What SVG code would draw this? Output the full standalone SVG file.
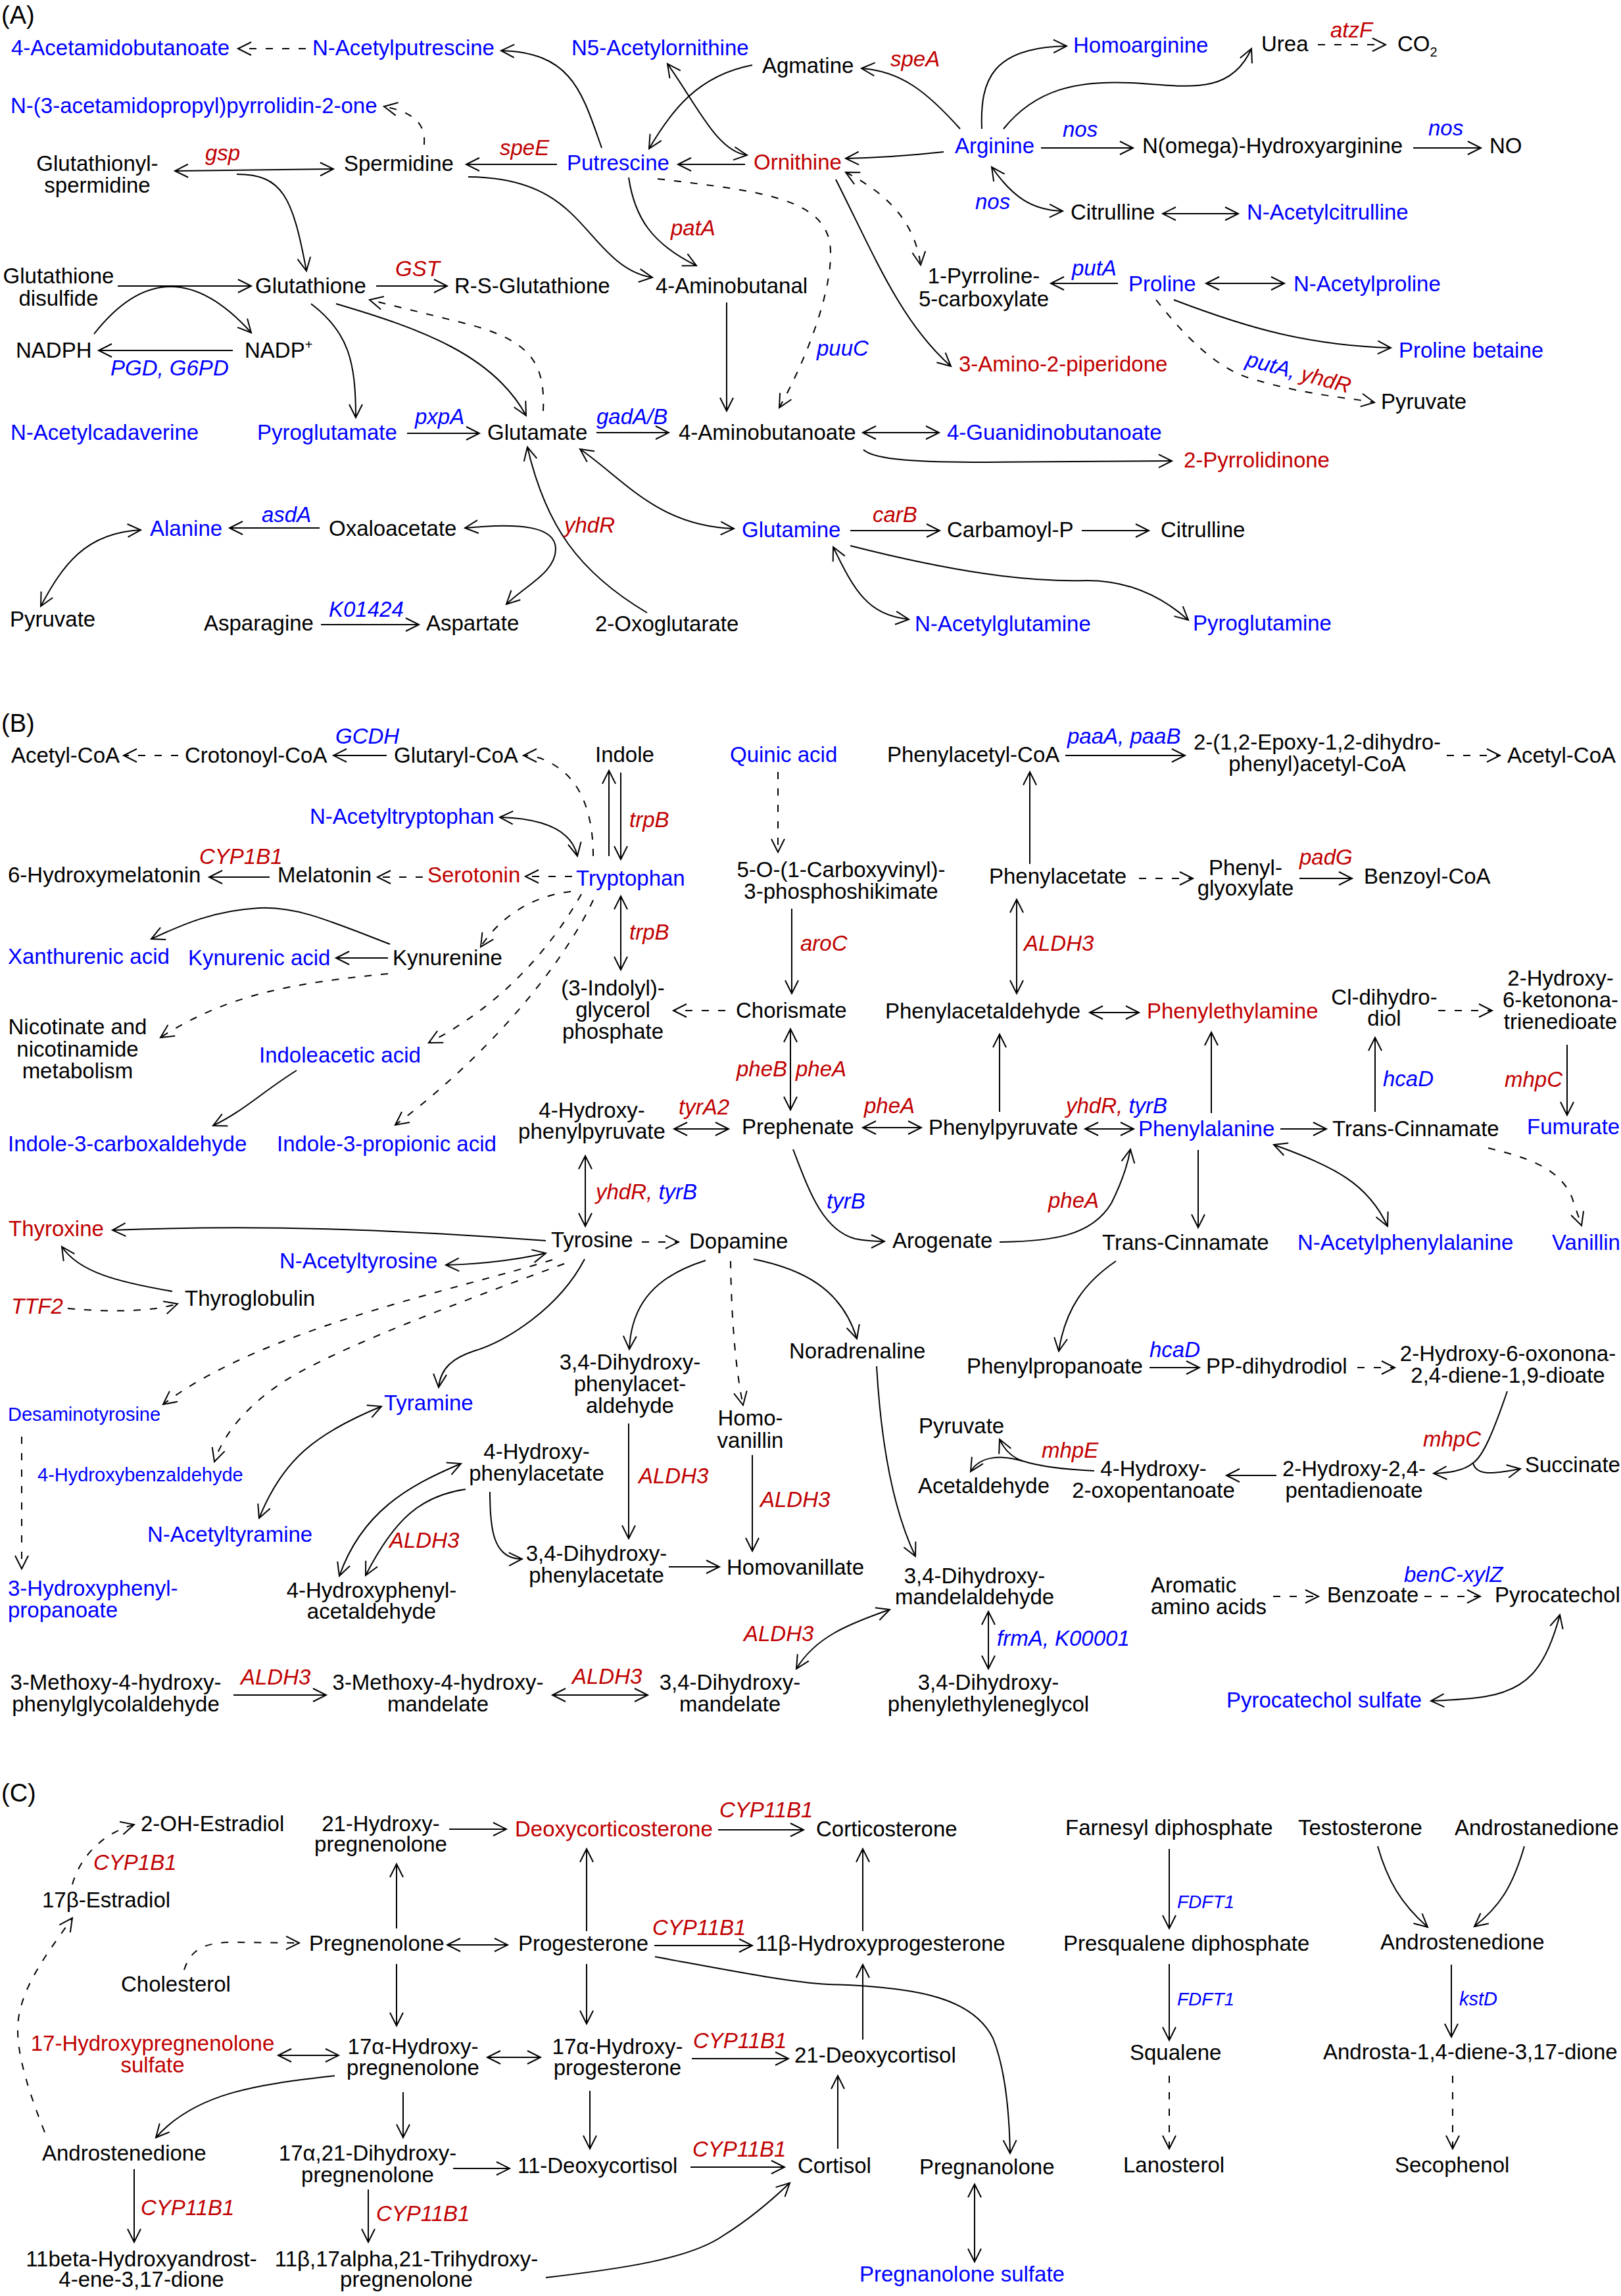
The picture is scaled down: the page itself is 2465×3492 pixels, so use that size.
<svg xmlns="http://www.w3.org/2000/svg" width="2465" height="3492" viewBox="0 0 2465 3492">
<style>
text{font-family:"Liberation Sans",Arial,sans-serif;font-size:33px;fill:#000}
.b{fill:#0000ff}.r{fill:#c00000}.i{font-style:italic}.m{text-anchor:middle}
.lab{font-size:38px}.s29{font-size:29px}.s28{font-size:28px}
.c path{fill:none;stroke:#000;stroke-width:2}
.c .d{stroke-dasharray:11 14}
.c .e1{marker-end:url(#ah)}
.c .e2{marker-start:url(#ah);marker-end:url(#ah)}
</style>
<defs>
<marker id="ah" markerUnits="userSpaceOnUse" viewBox="-22 -12 24 24" refX="0" refY="0" markerWidth="24" markerHeight="24" orient="auto-start-reverse" overflow="visible"><path d="M-20,-10 L0,0 L-20,10" fill="none" stroke="#000" stroke-width="2" stroke-dasharray="none"/></marker>
</defs>
<rect width="2465" height="3492" fill="#fff"/>

<g id="connectors" class="c">
<!-- Panel A -->
<path class="d e1" d="M465,74 L362,74"/>
<path class="e1" d="M915,225 C885,140 870,80 762,77"/>
<path class="d e1" d="M645,220 C648,185 625,170 584,162"/>
<path class="e1" d="M847,250 L709,250"/>
<path class="e1" d="M712,269 C860,270 880,350 940,398 Q965,418 992,422"/>
<path class="e2" d="M266,260 L507,257"/>
<path class="e1" d="M360,265 C430,265 445,300 466,412"/>
<path class="e1" d="M179,435 L382,435"/>
<path class="e1" d="M143,508 Q255,365 382,506"/>
<path class="e1" d="M354,533 L150,533"/>
<path class="e1" d="M572,435 L680,435"/>
<path class="d e1" d="M826,625 C830,545 800,515 700,490 L562,456"/>
<path class="e1" d="M473,462 C530,505 541,550 541,635"/>
<path class="e1" d="M511,462 C640,500 750,540 800,632"/>
<path class="e1" d="M619,659 L729,659"/>
<path class="e1" d="M907,658 L1017,658"/>
<path class="e2" d="M1312,658 L1428,658"/>
<path class="e1" d="M1313,684 C1330,700 1400,703 1500,703 L1782,701"/>
<path class="e1" d="M1105,460 L1105,625"/>
<path class="e1" d="M956,270 C965,330 990,370 1059,404"/>
<path class="d e1" d="M1000,272 C1150,290 1250,300 1262,370 C1270,430 1230,540 1185,620"/>
<path class="e1" d="M1271,273 C1330,390 1370,490 1446,557"/>
<path class="d e2" d="M1286,262 C1340,290 1390,330 1400,403"/>
<path class="e1" d="M1700,431 L1598,431"/>
<path class="e2" d="M1834,431 L1953,431"/>
<path class="e1" d="M1785,456 C1900,500 1990,525 2115,529"/>
<path class="d e1" d="M1758,456 C1800,510 1850,560 1900,575 C1980,600 2050,605 2090,612"/>
<path class="e1" d="M1435,231 C1380,237 1330,240 1286,241"/>
<path class="e1" d="M1460,196 C1410,140 1370,108 1310,104"/>
<path class="e1" d="M1144,99 C1060,115 1020,170 987,226"/>
<path class="e2" d="M1015,97 C1060,160 1090,230 1136,236"/>
<path class="e1" d="M1133,250 L1031,250"/>
<path class="e1" d="M1493,196 C1490,120 1510,72 1622,70"/>
<path class="e1" d="M1526,196 C1575,135 1640,122 1720,126 C1800,130 1870,148 1903,74"/>
<path class="d e1" d="M2004,68 L2107,68"/>
<path class="e1" d="M1583,225 L1723,225"/>
<path class="e1" d="M2149,225 L2252,225"/>
<path class="e2" d="M1508,254 C1540,300 1570,320 1616,321"/>
<path class="e2" d="M1768,325 L1883,325"/>
<path class="e2" d="M882,683 C950,730 1000,800 1116,804"/>
<path class="e1" d="M1293,807 L1429,807"/>
<path class="e1" d="M1645,807 L1747,807"/>
<path class="e1" d="M1293,830 C1450,870 1560,885 1650,883 C1720,882 1770,910 1807,943"/>
<path class="e2" d="M1267,832 C1300,900 1320,935 1382,942"/>
<path class="e1" d="M486,803 L349,803"/>
<path class="e2" d="M214,806 C130,810 95,860 62,922"/>
<path class="e1" d="M488,950 L637,950"/>
<path class="e1" d="M984,932 C880,870 830,800 802,680"/>
<path class="e2" d="M707,803 C790,795 845,800 845,835 C845,870 800,890 770,919"/>
<!-- Panel B -->
<path class="d e1" d="M271,1149 L188,1149"/>
<path class="e1" d="M588,1149 L507,1149"/>
<path class="d e1" d="M902,1302 C902,1240 885,1190 845,1165 C825,1152 810,1149 796,1149"/>
<path class="e1" d="M926,1302 L926,1172"/>
<path class="e1" d="M944,1175 L944,1307"/>
<path class="e2" d="M944,1363 L944,1475"/>
<path class="d e1" d="M1103,1537 L1024,1537"/>
<path class="d e1" d="M1183,1174 L1183,1296"/>
<path class="e1" d="M1204,1382 L1204,1511"/>
<path class="e2" d="M1202,1565 L1202,1688"/>
<path class="e2" d="M1025,1717 L1108,1717"/>
<path class="e2" d="M1312,1715 L1401,1715"/>
<path class="e2" d="M890,1758 L890,1865"/>
<path class="d e1" d="M976,1889 L1032,1889"/>
<path class="e1" d="M1206,1748 C1230,1810 1250,1870 1300,1884 Q1320,1888 1345,1888"/>
<path class="e1" d="M1520,1889 C1600,1888 1660,1880 1690,1830 C1705,1800 1715,1770 1719,1748"/>
<path class="e2" d="M1650,1717 L1724,1717"/>
<path class="e1" d="M1947,1717 L2017,1717"/>
<path class="e1" d="M2091,1691 L2091,1578"/>
<path class="d e1" d="M2187,1537 L2269,1537"/>
<path class="e1" d="M2383,1589 L2383,1696"/>
<path class="d e1" d="M2263,1746 C2320,1760 2370,1775 2390,1820 L2405,1864"/>
<path class="e1" d="M1842,1693 L1842,1570"/>
<path class="e2" d="M1657,1540 L1732,1540"/>
<path class="e1" d="M1520,1691 L1520,1573"/>
<path class="e2" d="M1546,1368 L1546,1511"/>
<path class="e1" d="M1566,1314 L1566,1174"/>
<path class="e1" d="M1620,1149 L1802,1149"/>
<path class="d e1" d="M2200,1149 L2281,1149"/>
<path class="d e1" d="M1732,1336 L1814,1336"/>
<path class="e1" d="M1976,1336 L2056,1336"/>
<path class="e1" d="M1822,1749 L1822,1867"/>
<path class="e2" d="M1937,1741 C2030,1775 2080,1800 2110,1865"/>
<path class="e1" d="M1697,1918 C1650,1950 1620,1990 1610,2055"/>
<path class="e2" d="M878,1302 C870,1265 830,1245 760,1243"/>
<path class="d e1" d="M870,1333 L799,1333"/>
<path class="d e1" d="M643,1334 L574,1334"/>
<path class="e1" d="M410,1334 L318,1334"/>
<path class="d e1" d="M868,1356 C810,1362 760,1395 731,1440"/>
<path class="e1" d="M590,1457 L511,1457"/>
<path class="e1" d="M593,1436 C500,1400 450,1378 394,1381 C320,1385 270,1410 230,1428"/>
<path class="d e1" d="M590,1481 C450,1495 350,1510 244,1578"/>
<path class="d e1" d="M884,1360 C850,1420 780,1520 652,1586"/>
<path class="e1" d="M451,1628 C400,1660 370,1690 324,1712"/>
<path class="d e1" d="M902,1369 C860,1460 750,1600 601,1711"/>
<path class="e1" d="M830,1887 C600,1870 400,1862 171,1871"/>
<path class="e2" d="M678,1924 C740,1922 790,1915 830,1906"/>
<path class="e1" d="M262,1964 C180,1950 120,1935 94,1896"/>
<path class="d e1" d="M103,1990 C170,1996 230,1995 270,1983"/>
<path class="d e1" d="M840,1916 C700,1960 400,2020 248,2136"/>
<path class="d e1" d="M858,1922 C700,1980 540,2040 450,2090 C380,2130 340,2180 326,2223"/>
<path class="e1" d="M889,1915 C850,1990 770,2040 720,2055 C690,2065 670,2080 667,2110"/>
<path class="d e1" d="M33,2185 L33,2386"/>
<path class="e2" d="M580,2139 C480,2180 430,2220 394,2309"/>
<path class="e2" d="M701,2226 C620,2260 550,2300 516,2397"/>
<path class="e1" d="M708,2265 C640,2275 600,2310 556,2396"/>
<path class="e1" d="M745,2269 C745,2320 748,2372 794,2371"/>
<path class="e1" d="M1017,2383 L1094,2383"/>
<path class="e1" d="M1073,1917 C1000,1940 960,1980 957,2052"/>
<path class="e1" d="M956,2165 L956,2340"/>
<path class="d e1" d="M1111,1918 C1112,2000 1118,2080 1130,2137"/>
<path class="e1" d="M1144,2213 L1144,2359"/>
<path class="e1" d="M1146,1915 C1220,1930 1280,1960 1303,2036"/>
<path class="e1" d="M1333,2078 C1340,2200 1360,2300 1392,2367"/>
<path class="e2" d="M1503,2451 L1503,2538"/>
<path class="e2" d="M1353,2448 C1290,2470 1240,2490 1211,2538"/>
<path class="e2" d="M840,2578 L985,2578"/>
<path class="e1" d="M355,2578 L496,2578"/>
<path class="e1" d="M1748,2080 L1824,2080"/>
<path class="d e1" d="M2064,2080 L2121,2080"/>
<path class="e1" d="M2292,2116 C2270,2180 2255,2215 2240,2225 C2225,2238 2200,2240 2180,2241"/>
<path class="e1" d="M2240,2225 C2245,2245 2270,2242 2312,2234"/>
<path class="e1" d="M1941,2244 L1865,2244"/>
<path class="e1" d="M1664,2237 C1620,2235 1580,2230 1555,2222 C1535,2215 1525,2200 1520,2189"/>
<path class="e1" d="M1555,2222 C1520,2212 1490,2215 1476,2238"/>
<path class="d e1" d="M1936,2428 L2005,2428"/>
<path class="d e1" d="M2166,2428 L2251,2428"/>
<path class="e2" d="M2372,2456 C2350,2540 2320,2570 2260,2580 C2230,2585 2200,2586 2176,2587"/>
<!-- Panel C -->
<path class="d e1" d="M110,2866 C120,2830 150,2790 204,2775"/>
<path class="d e1" d="M68,3243 C35,3160 20,3100 30,3060 C40,3010 80,2960 110,2917"/>
<path class="e1" d="M683,2782 L770,2782"/>
<path class="e1" d="M1092,2783 L1222,2783"/>
<path class="e1" d="M603,2933 L603,2835"/>
<path class="d e1" d="M280,2996 C290,2965 310,2955 350,2954 L455,2955"/>
<path class="e2" d="M680,2958 L772,2958"/>
<path class="e1" d="M892,2937 L892,2812"/>
<path class="e1" d="M995,2959 L1144,2959"/>
<path class="e1" d="M1312,2937 L1312,2812"/>
<path class="e1" d="M996,2976 C1100,2995 1200,3015 1260,3018 C1400,3022 1480,3040 1510,3100 C1530,3150 1535,3220 1536,3275"/>
<path class="e2" d="M1482,3322 L1482,3440"/>
<path class="e1" d="M603,2987 L603,3081"/>
<path class="e2" d="M423,3126 L515,3126"/>
<path class="e2" d="M741,3129 L822,3129"/>
<path class="e1" d="M892,2987 L892,3078"/>
<path class="e1" d="M1052,3131 L1199,3131"/>
<path class="e1" d="M1312,3102 L1312,2988"/>
<path class="e1" d="M509,3157 C400,3170 300,3180 237,3251"/>
<path class="e1" d="M204,3299 L204,3410"/>
<path class="e1" d="M613,3182 L613,3251"/>
<path class="e1" d="M689,3298 L775,3298"/>
<path class="e1" d="M897,3180 L897,3268"/>
<path class="e1" d="M1050,3296 L1193,3296"/>
<path class="e1" d="M1274,3268 L1274,3157"/>
<path class="e1" d="M560,3330 L560,3410"/>
<path class="e1" d="M830,3464 C950,3450 1050,3435 1100,3400 C1140,3375 1175,3345 1201,3320"/>
<path class="e1" d="M1778,2812 L1778,2933"/>
<path class="e1" d="M1778,2987 L1778,3103"/>
<path class="d e1" d="M1778,3157 L1778,3268"/>
<path class="e1" d="M2095,2808 C2110,2860 2130,2895 2171,2931"/>
<path class="e1" d="M2318,2808 C2300,2870 2280,2900 2242,2930"/>
<path class="e1" d="M2207,2988 L2207,3098"/>
<path class="d e1" d="M2209,3157 L2209,3268"/>
</g>

<!-- Panel labels -->
<g id="lblA"><text class="lab" x="2" y="36">(A)</text></g>
<g id="lblB"><text class="lab" x="2" y="1113">(B)</text></g>
<g id="lblC"><text class="lab" x="2" y="2740">(C)</text></g>

<!-- Panel A nodes -->
<g id="a_acetamidobutanoate"><text class="b" x="17" y="84">4-Acetamidobutanoate</text></g>
<g id="a_nacetylputrescine"><text class="b" x="475" y="84">N-Acetylputrescine</text></g>
<g id="a_n5acetylornithine"><text class="b" x="869" y="84">N5-Acetylornithine</text></g>
<g id="a_agmatine"><text x="1159" y="111">Agmatine</text></g>
<g id="a_speA"><text class="r i" x="1354" y="101">speA</text></g>
<g id="a_homoarginine"><text class="b" x="1632" y="80">Homoarginine</text></g>
<g id="a_urea"><text x="1918" y="78">Urea</text></g>
<g id="a_atzF"><text class="r i" x="2023" y="57">atzF</text></g>
<g id="a_co2"><text x="2125" y="78">CO<tspan font-size="20" dy="8">2</tspan></text></g>
<g id="a_pyrrolidinone"><text class="b" x="16" y="172">N-(3-acetamidopropyl)pyrrolidin-2-one</text></g>
<g id="a_glutathionylspermidine"><text class="m" x="148" y="260">Glutathionyl-<tspan x="148" dy="33">spermidine</tspan></text></g>
<g id="a_gsp"><text class="r i" x="312" y="244">gsp</text></g>
<g id="a_spermidine"><text x="523" y="260">Spermidine</text></g>
<g id="a_speE"><text class="r i" x="760" y="236">speE</text></g>
<g id="a_putrescine"><text class="b" x="862" y="259">Putrescine</text></g>
<g id="a_ornithine"><text class="r" x="1146" y="258">Ornithine</text></g>
<g id="a_arginine"><text class="b" x="1452" y="233">Arginine</text></g>
<g id="a_nos1"><text class="b i" x="1616" y="208">nos</text></g>
<g id="a_nomega"><text x="1737" y="233">N(omega)-Hydroxyarginine</text></g>
<g id="a_nos2"><text class="b i" x="2172" y="206">nos</text></g>
<g id="a_no"><text x="2265" y="233">NO</text></g>
<g id="a_patA"><text class="r i" x="1020" y="358">patA</text></g>
<g id="a_nos3"><text class="b i" x="1483" y="318">nos</text></g>
<g id="a_citrulline1"><text x="1628" y="334">Citrulline</text></g>
<g id="a_nacetylcitrulline"><text class="b" x="1896" y="334">N-Acetylcitrulline</text></g>
<g id="a_gssg"><text class="m" x="89" y="431">Glutathione<tspan x="89" dy="34">disulfide</tspan></text></g>
<g id="a_glutathione"><text x="388" y="446">Glutathione</text></g>
<g id="a_GST"><text class="r i" x="601" y="420">GST</text></g>
<g id="a_rsglutathione"><text x="691" y="446">R-S-Glutathione</text></g>
<g id="a_aminobutanal"><text x="997" y="446">4-Aminobutanal</text></g>
<g id="a_p5c"><text class="m" x="1496" y="431">1-Pyrroline-<tspan x="1496" dy="35">5-carboxylate</tspan></text></g>
<g id="a_putA"><text class="b i" x="1630" y="419">putA</text></g>
<g id="a_proline"><text class="b" x="1716" y="443">Proline</text></g>
<g id="a_nacetylproline"><text class="b" x="1967" y="443">N-Acetylproline</text></g>
<g id="a_nadph"><text x="24" y="544">NADPH</text></g>
<g id="a_nadp"><text x="372" y="544">NADP<tspan font-size="20" dy="-13">+</tspan></text></g>
<g id="a_pgd"><text class="b i" x="168" y="571">PGD, G6PD</text></g>
<g id="a_puuC"><text class="b i" x="1242" y="541">puuC</text></g>
<g id="a_aminopiperidone"><text class="r" x="1458" y="565">3-Amino-2-piperidone</text></g>
<g id="a_prolinebetaine"><text class="b" x="2127" y="544">Proline betaine</text></g>
<g id="a_putAyhdR"><text class="i" transform="translate(1893,556) rotate(15)"><tspan class="b">putA, </tspan><tspan class="r">yhdR</tspan></text></g>
<g id="a_pyruvate1"><text x="2100" y="622">Pyruvate</text></g>
<g id="a_nacetylcadaverine"><text class="b" x="16" y="669">N-Acetylcadaverine</text></g>
<g id="a_pyroglutamate"><text class="b" x="391" y="669">Pyroglutamate</text></g>
<g id="a_pxpA"><text class="b i" x="631" y="645">pxpA</text></g>
<g id="a_glutamate"><text x="741" y="669">Glutamate</text></g>
<g id="a_gadAB"><text class="b i" x="907" y="645">gadA/B</text></g>
<g id="a_aminobutanoate"><text x="1032" y="669">4-Aminobutanoate</text></g>
<g id="a_guanidinobutanoate"><text class="b" x="1440" y="669">4-Guanidinobutanoate</text></g>
<g id="a_pyrrolidinone2"><text class="r" x="1800" y="711">2-Pyrrolidinone</text></g>
<g id="a_alanine"><text class="b" x="228" y="815">Alanine</text></g>
<g id="a_asdA"><text class="b i" x="398" y="794">asdA</text></g>
<g id="a_oxaloacetate"><text x="500" y="815">Oxaloacetate</text></g>
<g id="a_yhdR"><text class="r i" x="858" y="810">yhdR</text></g>
<g id="a_glutamine"><text class="b" x="1128" y="817">Glutamine</text></g>
<g id="a_carB"><text class="r i" x="1327" y="794">carB</text></g>
<g id="a_carbamoylp"><text x="1440" y="817">Carbamoyl-P</text></g>
<g id="a_citrulline2"><text x="1765" y="817">Citrulline</text></g>
<g id="a_pyruvate2"><text x="15" y="953">Pyruvate</text></g>
<g id="a_asparagine"><text x="310" y="959">Asparagine</text></g>
<g id="a_K01424"><text class="b i" x="500" y="938">K01424</text></g>
<g id="a_aspartate"><text x="648" y="959">Aspartate</text></g>
<g id="a_oxoglutarate"><text x="905" y="960">2-Oxoglutarate</text></g>
<g id="a_nacetylglutamine"><text class="b" x="1391" y="960">N-Acetylglutamine</text></g>
<g id="a_pyroglutamine"><text class="b" x="1814" y="959">Pyroglutamine</text></g>

<!-- Panel B nodes -->
<g id="b_acetylcoa1"><text x="17" y="1160">Acetyl-CoA</text></g>
<g id="b_crotonoylcoa"><text x="281" y="1160">Crotonoyl-CoA</text></g>
<g id="b_GCDH"><text class="b i" x="510" y="1131">GCDH</text></g>
<g id="b_glutarylcoa"><text x="599" y="1160">Glutaryl-CoA</text></g>
<g id="b_indole"><text x="905" y="1159">Indole</text></g>
<g id="b_quinic"><text class="b" x="1110" y="1159">Quinic acid</text></g>
<g id="b_phenylacetylcoa"><text x="1349" y="1159">Phenylacetyl-CoA</text></g>
<g id="b_paa"><text class="b i" x="1623" y="1131">paaA, paaB</text></g>
<g id="b_epoxy"><text class="m" x="2003" y="1140">2-(1,2-Epoxy-1,2-dihydro-<tspan x="2003" dy="33">phenyl)acetyl-CoA</tspan></text></g>
<g id="b_acetylcoa2"><text x="2292" y="1160">Acetyl-CoA</text></g>
<g id="b_trpB1"><text class="r i" x="957" y="1258">trpB</text></g>
<g id="b_nacetyltryptophan"><text class="b" x="471" y="1253">N-Acetyltryptophan</text></g>
<g id="b_CYP1B1"><text class="r i" x="303" y="1314">CYP1B1</text></g>
<g id="b_hydroxymelatonin"><text x="12" y="1342">6-Hydroxymelatonin</text></g>
<g id="b_melatonin"><text x="422" y="1342">Melatonin</text></g>
<g id="b_serotonin"><text class="r" x="650" y="1342">Serotonin</text></g>
<g id="b_tryptophan"><text class="b" x="876" y="1347">Tryptophan</text></g>
<g id="b_cvps"><text class="m" x="1279" y="1334">5-O-(1-Carboxyvinyl)-<tspan x="1279" dy="33">3-phosphoshikimate</tspan></text></g>
<g id="b_phenylacetate"><text x="1504" y="1344">Phenylacetate</text></g>
<g id="b_phenylglyoxylate"><text class="m" x="1894" y="1331">Phenyl-<tspan x="1894" dy="31">glyoxylate</tspan></text></g>
<g id="b_padG"><text class="r i" x="1976" y="1315">padG</text></g>
<g id="b_benzoylcoa"><text x="2074" y="1344">Benzoyl-CoA</text></g>
<g id="b_trpB2"><text class="r i" x="957" y="1429">trpB</text></g>
<g id="b_aroC"><text class="r i" x="1217" y="1446">aroC</text></g>
<g id="b_ALDH3a"><text class="r i" x="1557" y="1446">ALDH3</text></g>
<g id="b_xanthurenic"><text class="b" x="12" y="1466">Xanthurenic acid</text></g>
<g id="b_kynurenic"><text class="b" x="286" y="1468">Kynurenic acid</text></g>
<g id="b_kynurenine"><text x="597" y="1468">Kynurenine</text></g>
<g id="b_igp"><text class="m" x="932" y="1514">(3-Indolyl)-<tspan x="932" dy="33">glycerol</tspan><tspan x="932" dy="33">phosphate</tspan></text></g>
<g id="b_chorismate"><text x="1119" y="1548">Chorismate</text></g>
<g id="b_phenylacetaldehyde"><text x="1346" y="1549">Phenylacetaldehyde</text></g>
<g id="b_phenylethylamine"><text class="r" x="1744" y="1549">Phenylethylamine</text></g>
<g id="b_cldiol"><text class="m" x="2105" y="1528">Cl-dihydro-<tspan x="2105" dy="32">diol</tspan></text></g>
<g id="b_ketonona"><text class="m" x="2373" y="1499">2-Hydroxy-<tspan x="2373" dy="33">6-ketonona-</tspan><tspan x="2373" dy="33">trienedioate</tspan></text></g>
<g id="b_nicotinate"><text class="m" x="118" y="1573">Nicotinate and<tspan x="118" dy="34">nicotinamide</tspan><tspan x="118" dy="33">metabolism</tspan></text></g>
<g id="b_indoleacetic"><text class="b" x="394" y="1616">Indoleacetic acid</text></g>
<g id="b_pheBpheA"><text class="r i" x="1120" y="1637">pheB</text><text class="r i" x="1210" y="1637">pheA</text></g>
<g id="b_hcaD1"><text class="b i" x="2103" y="1652">hcaD</text></g>
<g id="b_mhpC1"><text class="r i" x="2288" y="1653">mhpC</text></g>
<g id="b_tyrA2"><text class="r i" x="1032" y="1695">tyrA2</text></g>
<g id="b_pheA1"><text class="r i" x="1314" y="1693">pheA</text></g>
<g id="b_yhdRtyrB2"><text class="i" x="1621" y="1693"><tspan class="r">yhdR, </tspan><tspan class="b">tyrB</tspan></text></g>
<g id="b_hpp"><text class="m" x="900" y="1700">4-Hydroxy-<tspan x="900" dy="32">phenylpyruvate</tspan></text></g>
<g id="b_prephenate"><text x="1128" y="1725">Prephenate</text></g>
<g id="b_phenylpyruvate"><text x="1412" y="1726">Phenylpyruvate</text></g>
<g id="b_phenylalanine"><text class="b" x="1731" y="1728">Phenylalanine</text></g>
<g id="b_transcinnamate1"><text x="2026" y="1728">Trans-Cinnamate</text></g>
<g id="b_fumurate"><text class="b" x="2322" y="1725">Fumurate</text></g>
<g id="b_indolecarboxaldehyde"><text class="b" x="12" y="1751">Indole-3-carboxaldehyde</text></g>
<g id="b_indolepropionic"><text class="b" x="421" y="1751">Indole-3-propionic acid</text></g>
<g id="b_yhdRtyrB1"><text class="i" x="906" y="1824"><tspan class="r">yhdR, </tspan><tspan class="b">tyrB</tspan></text></g>
<g id="b_tyrB"><text class="b i" x="1257" y="1838">tyrB</text></g>
<g id="b_pheA2"><text class="r i" x="1594" y="1837">pheA</text></g>
<g id="b_thyroxine"><text class="r" x="13" y="1880">Thyroxine</text></g>
<g id="b_tyrosine"><text x="838" y="1897">Tyrosine</text></g>
<g id="b_dopamine"><text x="1048" y="1899">Dopamine</text></g>
<g id="b_arogenate"><text x="1357" y="1898">Arogenate</text></g>
<g id="b_transcinnamate2"><text x="1676" y="1901">Trans-Cinnamate</text></g>
<g id="b_nacetylphenylalanine"><text class="b" x="1973" y="1901">N-Acetylphenylalanine</text></g>
<g id="b_vanillin"><text class="b" x="2360" y="1901">Vanillin</text></g>
<g id="b_nacetyltyrosine"><text class="b" x="425" y="1929">N-Acetyltyrosine</text></g>
<g id="b_thyroglobulin"><text x="281" y="1986">Thyroglobulin</text></g>
<g id="b_TTF2"><text class="r i" x="17" y="1998">TTF2</text></g>
<g id="b_noradrenaline"><text x="1200" y="2066">Noradrenaline</text></g>
<g id="b_hcaD2"><text class="b i" x="1748" y="2064">hcaD</text></g>
<g id="b_phenylpropanoate"><text x="1470" y="2089">Phenylpropanoate</text></g>
<g id="b_ppdihydrodiol"><text x="1834" y="2089">PP-dihydrodiol</text></g>
<g id="b_oxonona"><text class="m" x="2293" y="2070">2-Hydroxy-6-oxonona-<tspan x="2293" dy="33">2,4-diene-1,9-dioate</tspan></text></g>
<g id="b_dhpaa"><text class="m" x="958" y="2083">3,4-Dihydroxy-<tspan x="958" dy="33">phenylacet-</tspan><tspan x="958" dy="33">aldehyde</tspan></text></g>
<g id="b_tyramine"><text class="b" x="584" y="2145">Tyramine</text></g>
<g id="b_desaminotyrosine"><text class="b s29" x="12" y="2161">Desaminotyrosine</text></g>
<g id="b_homovanillin"><text class="m" x="1141" y="2168">Homo-<tspan x="1141" dy="34">vanillin</tspan></text></g>
<g id="b_pyruvate"><text x="1397" y="2180">Pyruvate</text></g>
<g id="b_mhpC2"><text class="r i" x="2164" y="2200">mhpC</text></g>
<g id="b_mhpE"><text class="r i" x="1584" y="2217">mhpE</text></g>
<g id="b_hpa"><text class="m" x="816" y="2219">4-Hydroxy-<tspan x="816" dy="33">phenylacetate</tspan></text></g>
<g id="b_succinate"><text x="2319" y="2239">Succinate</text></g>
<g id="b_pentadienoate"><text class="m" x="2059" y="2245">2-Hydroxy-2,4-<tspan x="2059" dy="33">pentadienoate</tspan></text></g>
<g id="b_oxopentanoate"><text class="m" x="1754" y="2245">4-Hydroxy-<tspan x="1754" dy="33">2-oxopentanoate</tspan></text></g>
<g id="b_hydroxybenzaldehyde"><text class="b s29" x="57" y="2253">4-Hydroxybenzaldehyde</text></g>
<g id="b_ALDH3b"><text class="r i" x="971" y="2256">ALDH3</text></g>
<g id="b_acetaldehyde"><text x="1396" y="2271">Acetaldehyde</text></g>
<g id="b_ALDH3c"><text class="r i" x="1156" y="2292">ALDH3</text></g>
<g id="b_nacetyltyramine"><text class="b" x="224" y="2345">N-Acetyltyramine</text></g>
<g id="b_ALDH3d"><text class="r i" x="592" y="2354">ALDH3</text></g>
<g id="b_dhpa"><text class="m" x="907" y="2374">3,4-Dihydroxy-<tspan x="907" dy="33">phenylacetate</tspan></text></g>
<g id="b_homovanillate"><text x="1105" y="2395">Homovanillate</text></g>
<g id="b_dhmald"><text class="m" x="1482" y="2408">3,4-Dihydroxy-<tspan x="1482" dy="32">mandelaldehyde</tspan></text></g>
<g id="b_aromatic"><text x="1750" y="2422">Aromatic<tspan x="1750" dy="33">amino acids</tspan></text></g>
<g id="b_benC"><text class="b i" x="2135" y="2406">benC-xylZ</text></g>
<g id="b_benzoate"><text x="2018" y="2437">Benzoate</text></g>
<g id="b_pyrocatechol"><text x="2273" y="2437">Pyrocatechol</text></g>
<g id="b_hpp3"><text class="b" x="12" y="2427">3-Hydroxyphenyl-<tspan x="12" dy="33">propanoate</tspan></text></g>
<g id="b_hpacetaldehyde"><text class="m" x="565" y="2430">4-Hydroxyphenyl-<tspan x="565" dy="32">acetaldehyde</tspan></text></g>
<g id="b_frmA"><text class="b i" x="1516" y="2503">frmA, K00001</text></g>
<g id="b_ALDH3e"><text class="r i" x="1131" y="2496">ALDH3</text></g>
<g id="b_ALDH3f"><text class="r i" x="870" y="2561">ALDH3</text></g>
<g id="b_ALDH3g"><text class="r i" x="366" y="2562">ALDH3</text></g>
<g id="b_mhpgald"><text class="m" x="176" y="2570">3-Methoxy-4-hydroxy-<tspan x="176" dy="33">phenylglycolaldehyde</tspan></text></g>
<g id="b_mhmandelate"><text class="m" x="666" y="2570">3-Methoxy-4-hydroxy-<tspan x="666" dy="33">mandelate</tspan></text></g>
<g id="b_dhmandelate"><text class="m" x="1110" y="2570">3,4-Dihydroxy-<tspan x="1110" dy="33">mandelate</tspan></text></g>
<g id="b_dhpeg"><text class="m" x="1503" y="2570">3,4-Dihydroxy-<tspan x="1503" dy="33">phenylethyleneglycol</tspan></text></g>
<g id="b_pyrocatecholsulfate"><text class="b" x="1865" y="2597">Pyrocatechol sulfate</text></g>

<!-- Panel C nodes -->
<g id="c_ohestradiol"><text x="214" y="2785">2-OH-Estradiol</text></g>
<g id="c_21ohpreg"><text class="m" x="579" y="2785">21-Hydroxy-<tspan x="579" dy="31">pregnenolone</tspan></text></g>
<g id="c_doc"><text class="r" x="783" y="2793">Deoxycorticosterone</text></g>
<g id="c_CYP11B1a"><text class="r i" x="1094" y="2764">CYP11B1</text></g>
<g id="c_corticosterone"><text x="1241" y="2793">Corticosterone</text></g>
<g id="c_farnesyl"><text x="1620" y="2791">Farnesyl diphosphate</text></g>
<g id="c_testosterone"><text x="1974" y="2791">Testosterone</text></g>
<g id="c_androstanedione"><text x="2212" y="2791">Androstanedione</text></g>
<g id="c_CYP1B1"><text class="r i" x="142" y="2844">CYP1B1</text></g>
<g id="c_estradiol"><text x="64" y="2901">17β-Estradiol</text></g>
<g id="c_FDFT1a"><text class="b i s28" x="1790" y="2902">FDFT1</text></g>
<g id="c_CYP11B1b"><text class="r i" x="992" y="2943">CYP11B1</text></g>
<g id="c_pregnenolone"><text x="470" y="2967">Pregnenolone</text></g>
<g id="c_progesterone"><text x="788" y="2967">Progesterone</text></g>
<g id="c_11ohprog"><text x="1149" y="2967">11β-Hydroxyprogesterone</text></g>
<g id="c_presqualene"><text x="1617" y="2967">Presqualene diphosphate</text></g>
<g id="c_androstenedione2"><text x="2099" y="2965">Androstenedione</text></g>
<g id="c_cholesterol"><text x="184" y="3029">Cholesterol</text></g>
<g id="c_FDFT1b"><text class="b i s28" x="1790" y="3050">FDFT1</text></g>
<g id="c_kstD"><text class="b i s29" x="2219" y="3050">kstD</text></g>
<g id="c_CYP11B1c"><text class="r i" x="1054" y="3115">CYP11B1</text></g>
<g id="c_17ohpregs"><text class="r m" x="232" y="3119">17-Hydroxypregnenolone<tspan x="232" dy="33">sulfate</tspan></text></g>
<g id="c_17ohpreg"><text class="m" x="628" y="3124">17α-Hydroxy-<tspan x="628" dy="32">pregnenolone</tspan></text></g>
<g id="c_17ohprog"><text class="m" x="939" y="3124">17α-Hydroxy-<tspan x="939" dy="32">progesterone</tspan></text></g>
<g id="c_21deoxycortisol"><text x="1208" y="3137">21-Deoxycortisol</text></g>
<g id="c_squalene"><text x="1718" y="3133">Squalene</text></g>
<g id="c_androstadiene"><text x="2012" y="3132">Androsta-1,4-diene-3,17-dione</text></g>
<g id="c_CYP11B1d"><text class="r i" x="1053" y="3280">CYP11B1</text></g>
<g id="c_androstenedione1"><text x="64" y="3286">Androstenedione</text></g>
<g id="c_1721dohpreg"><text class="m" x="559" y="3286">17α,21-Dihydroxy-<tspan x="559" dy="33">pregnenolone</tspan></text></g>
<g id="c_11deoxycortisol"><text x="787" y="3305">11-Deoxycortisol</text></g>
<g id="c_cortisol"><text x="1213" y="3305">Cortisol</text></g>
<g id="c_pregnanolone"><text x="1398" y="3307">Pregnanolone</text></g>
<g id="c_lanosterol"><text x="1708" y="3304">Lanosterol</text></g>
<g id="c_secophenol"><text x="2121" y="3304">Secophenol</text></g>
<g id="c_CYP11B1e"><text class="r i" x="214" y="3369">CYP11B1</text></g>
<g id="c_CYP11B1f"><text class="r i" x="572" y="3378">CYP11B1</text></g>
<g id="c_11bohandro"><text class="m" x="215" y="3447">11beta-Hydroxyandrost-<tspan x="215" dy="31">4-ene-3,17-dione</tspan></text></g>
<g id="c_trihydroxy"><text class="m" x="618" y="3447">11β,17alpha,21-Trihydroxy-<tspan x="618" dy="31">pregnenolone</tspan></text></g>
<g id="c_pregnanolonesulfate"><text class="b" x="1307" y="3470">Pregnanolone sulfate</text></g>
</svg>
